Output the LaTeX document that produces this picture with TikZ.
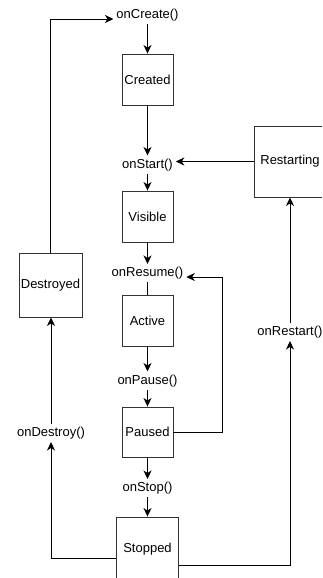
\documentclass[tikz,border=0pt]{standalone}
\usepackage{fontspec}
\setmainfont{Liberation Sans}
\usetikzlibrary{arrows.meta}
\begin{document}
\begin{tikzpicture}[x=1pt,y=-1pt,
  font=\fontsize{13pt}{15pt}\selectfont,
  box/.style={draw=black!80, line width=0.9pt, inner sep=0pt, align=center},
  lbl/.style={inner sep=0pt, outer sep=3pt, text height=9.5pt, text depth=2.5pt},
  arr/.style={-{Stealth[length=8.5pt,width=8pt,inset=2.5pt]}, line width=0.9pt},
  ln/.style={line width=0.9pt}]
\useasboundingbox (0,0) rectangle (322,578);
\clip (0,0) rectangle (322,578);
% states
\node[box, minimum width=51pt, minimum height=51pt] (created) at (147.5,79.5) {Created};
\node[box, minimum width=51pt, minimum height=51pt] (visible) at (147.5,216.5) {Visible};
\node[box, minimum width=51pt, minimum height=51pt] (active) at (147.5,320.5) {Active};
\node[box, minimum width=51pt, minimum height=50pt] (paused) at (147.5,432) {Paused};
\node[box, minimum width=62pt, minimum height=64pt] (stopped) at (147.5,549) {Stopped};
\node[box, minimum width=63pt, minimum height=64pt] (destroyed) at (50.5,285) {Destroyed};
\node[box, minimum width=72pt, minimum height=71pt] (restarting) at (290,161.5) {Restarting};
% callbacks
\node[lbl] (onCreate) at (147.5,15.5) {onCreate()};
\node[lbl] (onStart) at (147.5,164.5) {onStart()};
\node[lbl] (onResume) at (147.5,273) {onResume()};
\node[lbl] (onPause) at (147.5,380.5) {onPause()};
\node[lbl] (onStop) at (147.5,488) {onStop()};
\node[lbl] (onDestroy) at (51,433) {onDestroy()};
\node[lbl] (onRestart) at (290,332) {onRestart()};
% main column
\draw[arr] (onCreate) -- (created);
\draw[arr] (created) -- (onStart);
\draw[arr] (onStart) -- (visible);
\draw[arr] (visible) -- (onResume);
\draw[ln] (active.north |- onResume.south) -- (active.north);
\draw[arr] (active) -- (onPause);
\draw[arr] (onPause) -- (paused);
\draw[arr] (paused) -- (onStop);
\draw[arr] (onStop) -- (stopped);
% loops
\coordinate (rturn) at (222,277);
\draw[arr] (paused.east) -| (rturn) -- (rturn -| onResume.east);
\draw[arr] (restarting.west) -- (restarting.west -| onStart.east);
\draw[arr] (onRestart.north) -- (restarting.south);
\draw[arr] ([yshift=-16pt]stopped.east) -| (onRestart.south);
\draw[arr] ([yshift=-9pt]stopped.west) -| (onDestroy.south);
\draw[arr] (onDestroy.north) -- (onDestroy.north |- destroyed.south);
\draw[arr] (destroyed.north) |- ([yshift=-3.5pt]onCreate.west);
\end{tikzpicture}
\end{document}
